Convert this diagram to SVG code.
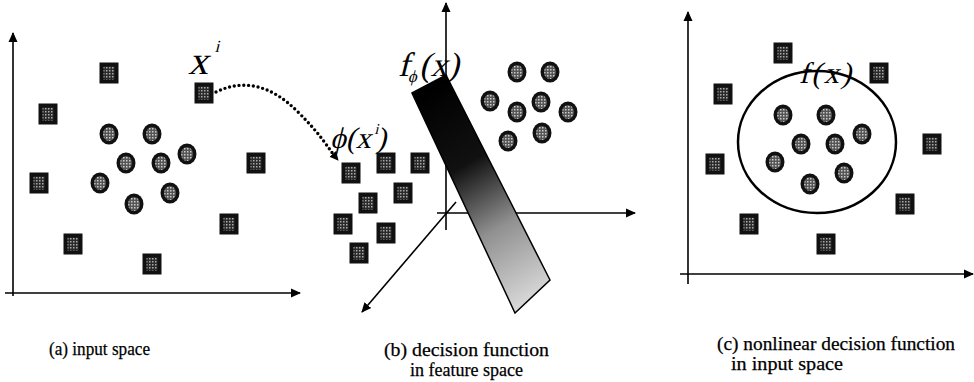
<svg xmlns="http://www.w3.org/2000/svg" width="974" height="382" viewBox="0 0 974 382">
<style>
.ax{stroke:#000;stroke-width:1.6;fill:none}
.math{font-family:"Liberation Serif","DejaVu Serif",serif;font-style:normal;fill:#000}
.cap{font-family:"Liberation Serif","DejaVu Serif",serif;font-size:19px;fill:#000;stroke:#000;stroke-width:0.25}
</style>
<defs>
<marker id="arr" viewBox="0 0 10 10" refX="9" refY="5" markerWidth="10" markerHeight="10" markerUnits="userSpaceOnUse" orient="auto">
<path d="M0,0.5 L10,5 L0,9.5 Z" fill="#000"/>
</marker>
<marker id="arrs" viewBox="0 0 10 10" refX="9" refY="5" markerWidth="9" markerHeight="9" markerUnits="userSpaceOnUse" orient="auto">
<path d="M0,0 L10,5 L0,10 Z" fill="#000"/>
</marker>
<pattern id="dots" width="3" height="3" patternUnits="userSpaceOnUse"><rect width="3" height="3" fill="#2a2a2a"/><rect width="1.5" height="1.5" fill="#aaa"/></pattern>
<pattern id="dots2" width="3" height="3" patternUnits="userSpaceOnUse"><rect width="3" height="3" fill="#555"/><rect width="1.5" height="1.5" fill="#ccc"/></pattern>
<g id="sq"><rect x="-9.5" y="-10.5" width="19" height="21" fill="#111"/><rect x="-5.5" y="-6.5" width="11" height="13" fill="url(#dots)"/></g>
<g id="ci"><ellipse rx="9.5" ry="10.5" fill="#111"/><ellipse rx="6" ry="7" fill="url(#dots2)"/></g>
<linearGradient id="bar" gradientUnits="userSpaceOnUse" x1="420" y1="95" x2="540" y2="300">
<stop offset="0" stop-color="#000"/>
<stop offset="0.35" stop-color="#111"/>
<stop offset="0.65" stop-color="#909090"/>
<stop offset="1" stop-color="#dcdcdc"/>
</linearGradient>
</defs>

<!-- Panel (a) -->
<g id="panel-a">
<g id="a-axes">
<line class="ax" x1="13" y1="296" x2="13" y2="33" marker-end="url(#arr)"/>
<line class="ax" x1="5" y1="293" x2="300" y2="293" marker-end="url(#arr)"/>
</g>
<g id="a-s1" transform="translate(109,73)"><use href="#sq"/></g>
<g id="a-s2" transform="translate(48,114)"><use href="#sq"/></g>
<g id="a-s3" transform="translate(204,93)"><use href="#sq"/></g>
<g id="a-s4" transform="translate(39,183)"><use href="#sq"/></g>
<g id="a-s5" transform="translate(256,163)"><use href="#sq"/></g>
<g id="a-s6" transform="translate(229,224)"><use href="#sq"/></g>
<g id="a-s7" transform="translate(73,244)"><use href="#sq"/></g>
<g id="a-s8" transform="translate(152,264)"><use href="#sq"/></g>
<g id="a-c1" transform="translate(109,134)"><use href="#ci"/></g>
<g id="a-c2" transform="translate(152,134)"><use href="#ci"/></g>
<g id="a-c3" transform="translate(126,163)"><use href="#ci"/></g>
<g id="a-c4" transform="translate(161,163)"><use href="#ci"/></g>
<g id="a-c5" transform="translate(187,154)"><use href="#ci"/></g>
<g id="a-c6" transform="translate(100,183)"><use href="#ci"/></g>
<g id="a-c7" transform="translate(170,193)"><use href="#ci"/></g>
<g id="a-c8" transform="translate(134,204)"><use href="#ci"/></g>
<text class="math" transform="translate(188,74) skewX(-14)" font-size="40">x<tspan font-size="17" dy="-22" dx="1">i</tspan></text>
<text class="cap" x="49" y="355" textLength="101" lengthAdjust="spacingAndGlyphs">(a) input space</text>
</g>

<!-- Connectors -->
<g id="connectors">
<path d="M216,92 C245,78 272,86 298,112 S326,146 338,160" fill="none" stroke="#000" stroke-width="3.4" stroke-linecap="round" stroke-dasharray="0 4.8" marker-end="url(#arrs)"/>
</g>

<!-- Panel (b) -->
<g id="panel-b">
<g id="b-axes">
<line class="ax" x1="446" y1="230" x2="446" y2="3" marker-end="url(#arr)"/>
<line class="ax" x1="437" y1="213" x2="635" y2="213" marker-end="url(#arr)"/>
<line class="ax" x1="456" y1="202" x2="362" y2="312" marker-end="url(#arr)"/>
</g>
<g id="b-s1" transform="translate(351,173)"><use href="#sq"/></g>
<g id="b-s2" transform="translate(386,163)"><use href="#sq"/></g>
<g id="b-s3" transform="translate(420,163)"><use href="#sq"/></g>
<g id="b-s4" transform="translate(403,193)"><use href="#sq"/></g>
<g id="b-s5" transform="translate(368,203)"><use href="#sq"/></g>
<g id="b-s6" transform="translate(343,224)"><use href="#sq"/></g>
<g id="b-s7" transform="translate(386,233)"><use href="#sq"/></g>
<g id="b-s8" transform="translate(359,253)"><use href="#sq"/></g>
<g id="b-c1" transform="translate(517,72)"><use href="#ci"/></g>
<g id="b-c2" transform="translate(550,72)"><use href="#ci"/></g>
<g id="b-c3" transform="translate(490,101)"><use href="#ci"/></g>
<g id="b-c4" transform="translate(541,102)"><use href="#ci"/></g>
<g id="b-c5" transform="translate(517,112)"><use href="#ci"/></g>
<g id="b-c6" transform="translate(568,112)"><use href="#ci"/></g>
<g id="b-c7" transform="translate(508,141)"><use href="#ci"/></g>
<g id="b-c8" transform="translate(542,133)"><use href="#ci"/></g>
<g id="b-plane">
<polygon points="412,93 446,75 550,280 515,313" fill="url(#bar)" stroke="#000" stroke-width="1.5"/>
</g>
<text class="math" transform="translate(398,76) skewX(-14)" font-size="34">f<tspan font-size="17" dy="6">ϕ</tspan><tspan dy="-6" dx="1">(x)</tspan></text>
<text class="math" transform="translate(330,148) skewX(-14)" font-size="30">ϕ(x<tspan font-size="15" dy="-14">i</tspan><tspan dy="14" dx="1">)</tspan></text>
<text class="cap" x="384" y="356" textLength="165" lengthAdjust="spacingAndGlyphs">(b) decision function</text>
<text class="cap" x="410" y="376" textLength="113" lengthAdjust="spacingAndGlyphs">in feature space</text>
</g>

<!-- Panel (c) -->
<g id="panel-c">
<g id="c-axes">
<line class="ax" x1="688" y1="284" x2="688" y2="12" marker-end="url(#arr)"/>
<line class="ax" x1="680" y1="274" x2="973" y2="274" marker-end="url(#arr)"/>
</g>
<g id="c-s1" transform="translate(783,53)"><use href="#sq"/></g>
<g id="c-s2" transform="translate(879,73)"><use href="#sq"/></g>
<g id="c-s3" transform="translate(723,94)"><use href="#sq"/></g>
<g id="c-s4" transform="translate(932,144)"><use href="#sq"/></g>
<g id="c-s5" transform="translate(715,164)"><use href="#sq"/></g>
<g id="c-s6" transform="translate(905,204)"><use href="#sq"/></g>
<g id="c-s7" transform="translate(749,224)"><use href="#sq"/></g>
<g id="c-s8" transform="translate(826,244)"><use href="#sq"/></g>
<g id="c-boundary"><ellipse cx="817" cy="142" rx="79" ry="71" fill="none" stroke="#000" stroke-width="2.5"/></g>
<g id="c-c1" transform="translate(783,115)"><use href="#ci"/></g>
<g id="c-c2" transform="translate(826,115)"><use href="#ci"/></g>
<g id="c-c3" transform="translate(862,134)"><use href="#ci"/></g>
<g id="c-c4" transform="translate(801,144)"><use href="#ci"/></g>
<g id="c-c5" transform="translate(835,144)"><use href="#ci"/></g>
<g id="c-c6" transform="translate(775,162)"><use href="#ci"/></g>
<g id="c-c7" transform="translate(844,173)"><use href="#ci"/></g>
<g id="c-c8" transform="translate(810,184)"><use href="#ci"/></g>
<text class="math" transform="translate(799,83) skewX(-14)" font-size="30" textLength="52" lengthAdjust="spacing">f(x)</text>
<text class="cap" x="717" y="350" textLength="238" lengthAdjust="spacingAndGlyphs">(c) nonlinear decision function</text>
<text class="cap" x="731" y="370" textLength="112" lengthAdjust="spacingAndGlyphs">in input space</text>
</g>
</svg>
